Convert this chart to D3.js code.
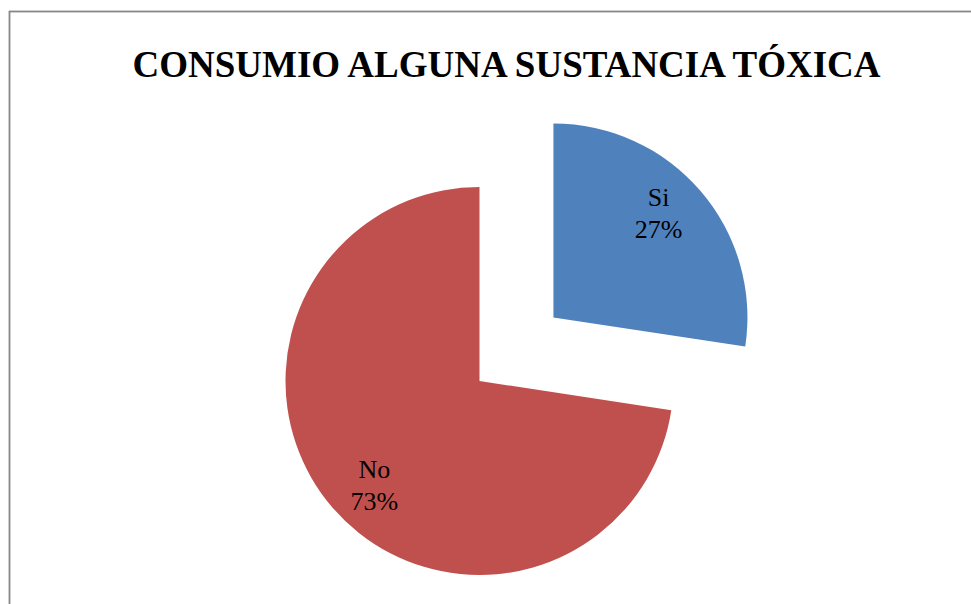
<!DOCTYPE html>
<html>
<head>
<meta charset="utf-8">
<script src="https://cdn.jsdelivr.net/npm/d3@7"></script>
<style>
  body { margin: 0; background: #fff; }
  svg { display: block; }
</style>
</head>
<body>
<svg id="pie"></svg>
<script>
var categories = ["Si", "No"];
var values = [27.4, 72.6];
var percentLabels = ["27%", "73%"];
var colors = ["#4F81BD", "#C0504D"];

function createPie(width, height){
    var pie = d3.select('#pie')
                .attr("width", width)
                .attr("height", height);

    // chart frame, runs off the right and bottom edge like the original
    pie.append("rect")
        .attr("x", 9.5)
        .attr("y", 11.5)
        .attr("width", width + 20)
        .attr("height", height + 20)
        .attr("fill", "none")
        .attr("stroke", "#878787")
        .attr("stroke-width", 1.8);

    pie.append("text")
        .attr("x", 506.5)
        .attr("y", 77)
        .attr("font-size", "37px")
        .attr("font-weight", "bold")
        .attr("font-family", "'Liberation Serif', 'Times New Roman', serif")
        .style("text-anchor", "middle")
        .text("CONSUMIO ALGUNA SUSTANCIA TÓXICA");

    pie.append("g")
        .attr("transform", "translate(479.5, 381)")
        .classed("chart", true);
}

function drawPie() {
    var pie = d3.select('#pie');
    var data = categories.map((c, i) => ({ name: c, value: values[i], label: percentLabels[i], color: colors[i] }));

    var arcs = d3.pie()
                .sort(null)
                .value(d => d.value);

    var radius = 194;
    var explode = 97.5;
    var labelR = 148;
    var labelShift = -0.07; // labels sit a little before the slice middle
    var path = d3.arc()
                .outerRadius(radius)
                .innerRadius(0);

    var slices = pie.select(".chart")
                .selectAll(".arc")
                .data(arcs(data))
                .enter()
                .append("g")
                .classed("arc", true)
                .attr("transform", d => {
                    if (d.index !== 0) return null;
                    var a = (d.startAngle + d.endAngle) / 2;
                    return "translate(" + (Math.sin(a) * explode) + "," + (-Math.cos(a) * explode) + ")";
                });

    slices.append("path")
        .attr("fill", d => d.data.color)
        .attr("d", path);

    var txt = slices.append("text")
        .attr("transform", d => {
            var a = (d.startAngle + d.endAngle) / 2 + labelShift;
            return "translate(" + (Math.sin(a) * labelR) + "," + (-Math.cos(a) * labelR) + ")";
        })
        .attr("font-size", "26px")
        .attr("font-family", "'Liberation Serif', 'Times New Roman', serif")
        .attr("fill", "#000")
        .style("text-anchor", "middle");

    txt.append("tspan")
        .attr("x", 0)
        .attr("y", -7)
        .text(d => d.data.name);
    txt.append("tspan")
        .attr("x", 0)
        .attr("y", 24.5)
        .text(d => d.data.label);
}

createPie(971, 604);
drawPie();
</script>
</body>
</html>
